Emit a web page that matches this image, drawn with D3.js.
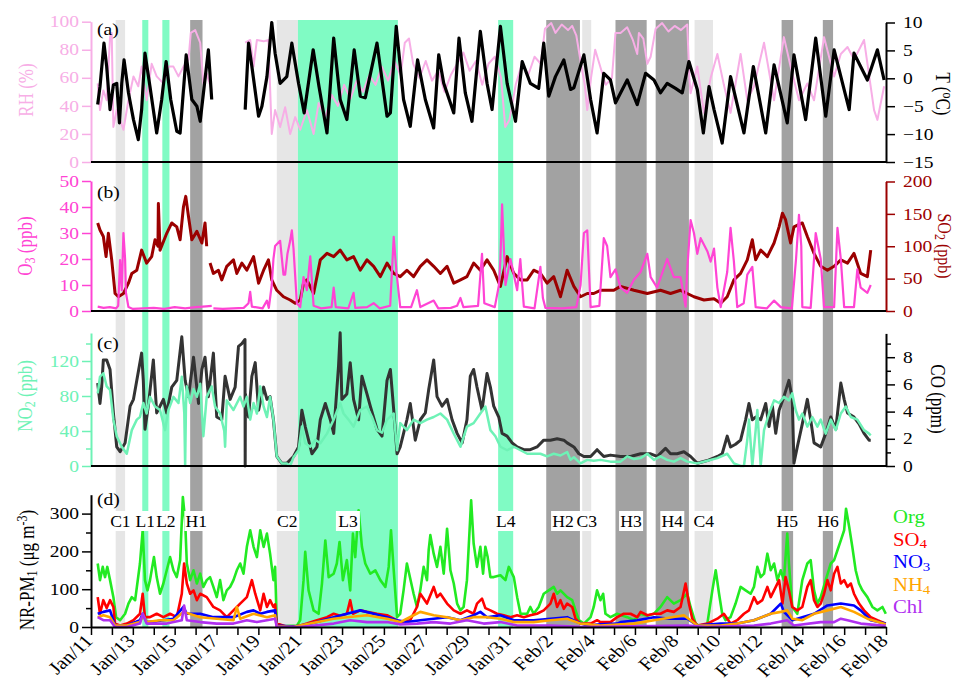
<!DOCTYPE html>
<html><head><meta charset="utf-8">
<script src="https://cdn.jsdelivr.net/npm/d3@7"></script>
<style>
body{margin:0;background:#fff}
svg{display:block}
text{font-family:"Liberation Serif","Times New Roman",serif}
</style>
</head><body>
<svg id="chart" width="955" height="688"></svg>
<script>
// ---- episode bands (days after Jan 11 00:00) ----
const bandNames = ["C1","L1","L2","H1","C2","L3","L4","H2","C3","H3","H4","C4","H5","H6"];
const bandStart = [1.18,2.45,3.41,4.74,8.88,9.89,19.46,21.76,23.48,25.07,26.99,28.85,33.01,34.98];
const bandEnd   = [1.63,2.74,3.75,5.33,9.89,14.67,20.18,23.37,23.91,26.56,28.58,29.73,33.56,35.47];

// ---- (a) temperature (°C) and RH (%) ----
const tempC = [[0.32,-4.7],[0.43,-1.5],[0.62,6.3],[0.75,2.1],[0.91,-5.6],[1.07,-1.2],[1.23,-0.9],[1.36,-8.0],[1.47,-0.9],[1.58,3.3],[1.79,-2.6],[2.03,-7.4],[2.26,-11],[2.42,-5.6],[2.58,4.5],[2.82,-1.5],[3.14,-9.8],[3.38,-3.8],[3.59,3.0],[3.81,-3.8],[4.10,-9.5],[4.26,-9.8],[4.55,4.2],[4.82,-3.8],[5.06,-5.0],[5.22,-7.7],[5.61,5.1],[5.77,-3.8],[5.8,null],
[7.37,-5.6],[7.53,6.3],[7.69,2.1],[8.01,-6.8],[8.17,-5.0],[8.41,0.3],[8.64,10.0],[8.80,4.5],[9.04,-0.9],[9.36,0.3],[9.60,6.3],[9.92,-0.9],[10.19,-6.2],[10.62,5.1],[10.9,-1.5],[11.28,-9.8],[11.6,7.2],[11.91,-3.8],[12.23,-7.4],[12.58,5.1],[12.87,-3.2],[13.11,-3.5],[13.67,6.3],[14.15,-6.8],[14.31,-6.2],[14.59,9.3],[14.94,-3.8],[15.26,-8.6],[15.61,3.3],[15.98,-3.8],[16.38,-8.9],[16.62,4.2],[16.86,-0.9],[17.34,-6.2],[17.59,7.2],[17.89,-2.6],[18.21,-7.7],[18.61,8.4],[18.93,-0.9],[19.17,-5.6],[19.57,9.3],[19.89,-0.9],[20.29,-7.7],[20.61,3.0],[21.0,-0.9],[21.4,-1.8],[21.64,6.3],[21.88,-3.2],[22.2,0.3],[22.6,3.3],[22.92,-2.0],[23.08,-1.7],[23.56,4.2],[23.88,-3.8],[24.19,-9.8],[24.51,0.9],[24.83,-0.3],[25.07,-4.4],[25.63,-0.3],[26.11,-4.7],[26.51,0.9],[26.91,-0.3],[27.22,-2.6],[27.54,-0.9],[27.94,-1.8],[28.26,-2.6],[28.58,3.0],[28.98,-2.0],[29.27,-9.8],[29.54,-1.5],[29.78,-5.6],[30.17,-11.6],[30.57,0.3],[31.21,-9.8],[31.66,2.1],[32.25,-9.8],[32.65,2.4],[33.28,-8.0],[33.60,4.2],[34.16,-7.4],[34.64,7.2],[35.12,-6.8],[35.52,5.1],[36.24,-5.6],[36.47,4.5],[37.11,-0.3],[37.59,5.1],[37.91,-0.3]];

const rh = [[0.32,56],[0.43,37],[0.59,51],[0.75,44],[0.91,89],[0.99,92],[1.07,25],[1.23,37],[1.55,23],[1.79,44],[2.03,61],[2.26,54],[2.42,68],[2.66,44],[2.90,70],[3.14,61],[3.46,56],[3.70,68],[3.94,68],[4.18,61],[4.42,68],[4.66,73],[4.77,92],[4.98,94],[5.22,85],[5.37,56],[5.53,63],[5.77,51],[5.8,null],
[7.37,85],[7.61,87],[7.77,68],[7.93,87],[8.25,86],[8.48,87],[8.64,20],[8.80,37],[9.04,25],[9.28,39],[9.52,20],[9.76,32],[10.0,23],[10.32,37],[10.64,20],[10.88,42],[11.2,32],[11.5,48],[11.8,40],[12.1,55],[12.4,45],[12.7,58],[13.0,50],[13.3,62],[13.6,55],[13.9,68],[14.2,58],[14.5,72],[14.8,62],[15.0,85],[15.2,88],[15.4,70],[15.7,60],[16.0,72],[16.3,58],[16.6,65],[16.9,50],[17.2,62],[17.5,70],[17.8,78],[18.1,65],[18.4,72],[18.7,55],[19.0,70],[19.3,75],[19.6,60],[19.8,25],[20.0,30],[20.3,55],[20.6,70],[20.9,62],[21.2,75],[21.5,70],[21.7,95],[22.0,99],[22.2,92],[22.5,98],[22.8,94],[23.0,97],[23.2,90],[23.4,72],[23.6,55],[23.72,37],[23.9,60],[24.1,80],[24.3,70],[24.6,55],[24.9,60],[25.07,92],[25.31,92],[25.63,96],[25.9,87],[26.11,77],[26.19,92],[26.4,88],[26.59,70],[26.75,75],[26.99,95],[27.3,99],[27.6,93],[27.9,97],[28.2,94],[28.5,98],[28.6,60],[28.66,49],[28.98,68],[29.3,35],[29.62,60],[29.94,77],[30.25,55],[30.57,35],[31.05,77],[31.37,44],[31.69,54],[32.17,85],[32.65,44],[33.12,89],[33.44,68],[33.84,44],[34.24,56],[34.56,44],[35.04,89],[35.52,61],[35.84,77],[36.16,82],[36.47,73],[36.95,87],[37.43,37],[37.59,30],[37.91,54]];

// ---- (b) O3 and SO2 (ppb) ----
const o3 = [[0.32,1.7],[0.6,1.2],[0.9,1.5],[1.2,1.0],[1.3,2],[1.39,19.6],[1.47,8],[1.55,30],[1.63,20],[1.67,7],[1.79,1.5],[2.0,0.8],[2.5,1.0],[3.0,1.2],[3.5,0.8],[4.0,1.5],[4.5,1.0],[5.0,1.5],[5.5,1.8],[5.77,2.0],[5.8,null],[5.85,1.0],[6.3,0.8],[6.8,1.0],[7.3,1.2],[7.53,3],[7.61,7.4],[7.69,1.7],[8.2,1.0],[8.41,4],[8.5,1.2],[8.64,10],[8.72,20],[8.80,25],[9.04,27],[9.2,14],[9.28,14],[9.39,22],[9.52,27],[9.60,31],[9.68,24],[9.84,3],[10.0,1.5],[10.16,13],[10.32,8],[10.48,21],[10.64,2],[11.0,1.0],[11.5,1.5],[11.6,9],[11.7,1.5],[12.3,1.0],[12.55,7],[12.63,1.2],[13.2,1.5],[13.51,3],[13.8,1.0],[14.3,2],[14.47,28.5],[14.6,15],[14.78,1.5],[15.3,1.5],[15.58,8],[15.74,1.5],[16.38,4],[16.6,1.0],[17.2,1.2],[17.5,2],[17.66,5],[17.8,1.5],[18.5,2],[18.69,22],[18.8,3],[19.3,1.5],[19.5,10],[19.57,20],[19.65,41],[19.73,25],[19.81,10],[20.05,20],[20.21,14],[20.37,8],[20.52,20],[20.69,1.7],[21.2,1.0],[21.48,17],[21.6,5],[21.72,1.2],[22.5,1.0],[23.2,1.5],[23.4,10],[23.56,30],[23.72,31],[23.88,1.5],[24.3,2],[24.51,28],[24.67,25],[24.83,13],[25.07,16],[25.31,9],[25.63,7],[25.95,12],[26.27,15],[26.59,22],[26.75,13],[27.06,9],[27.54,20],[27.86,13],[28.18,13],[28.42,1.7],[28.50,16],[28.66,35],[28.82,30],[28.98,22],[29.14,28],[29.46,23],[29.62,19],[29.78,24],[29.94,9],[30.10,1.5],[30.41,15],[30.57,32],[30.73,19],[30.89,1.5],[31.2,3],[31.37,14],[31.61,17],[31.77,1.5],[32.3,1.0],[32.65,4],[32.97,1.5],[33.5,1.0],[33.7,20],[33.84,37],[33.95,25],[34.0,1.5],[34.4,1.2],[34.56,20],[34.64,30],[34.88,20],[35.04,1.5],[35.52,1.5],[35.68,32],[35.84,20],[36.0,1.5],[36.47,1.5],[36.63,16],[36.79,9],[37.11,7],[37.27,10]];

const so2 = [[0.32,136],[0.43,125],[0.59,115],[0.72,84],[0.83,120],[0.99,79],[1.15,27],[1.31,22],[1.55,27],[1.79,43],[1.95,58],[2.19,63],[2.42,94],[2.66,74],[2.90,84],[3.06,110],[3.20,100],[3.22,166],[3.30,94],[3.62,120],[3.86,136],[4.10,130],[4.26,110],[4.42,161],[4.53,177],[4.66,146],[4.82,110],[5.06,123],[5.30,105],[5.45,136],[5.53,100],[5.6,null],
[5.69,74],[5.85,58],[6.09,63],[6.25,48],[6.49,69],[6.81,79],[6.97,58],[7.21,74],[7.45,63],[7.77,84],[8.01,43],[8.25,63],[8.48,79],[8.64,48],[8.88,32],[9.20,22],[9.52,17],[9.76,12],[10.0,17],[10.16,43],[10.32,48],[10.64,27],[10.96,79],[11.28,89],[11.6,84],[11.91,94],[12.23,79],[12.55,84],[12.87,63],[13.19,79],[13.51,69],[13.83,53],[14.15,74],[14.47,58],[14.78,53],[15.10,63],[15.42,53],[15.74,69],[16.06,79],[16.38,69],[16.70,58],[17.02,69],[17.34,43],[17.66,48],[17.97,53],[18.29,74],[18.61,63],[18.93,79],[19.25,63],[19.57,38],[19.89,84],[20.21,58],[20.53,48],[20.85,48],[21.16,63],[21.48,58],[21.80,43],[22.12,53],[22.44,22],[22.76,63],[23.08,38],[23.40,22],[23.72,27],[24.03,27],[24.35,32],[24.67,32],[24.99,32],[25.31,38],[25.95,32],[26.59,27],[27.22,32],[27.70,27],[28.18,32],[28.50,27],[28.82,22],[29.30,17],[29.78,19],[30.10,12],[30.41,22],[30.73,48],[31.05,58],[31.37,79],[31.61,110],[31.77,79],[32.01,94],[32.33,84],[32.65,105],[32.89,130],[33.05,151],[33.20,141],[33.44,105],[33.60,130],[34.0,136],[34.24,115],[34.56,89],[34.88,69],[35.20,63],[35.52,69],[35.84,79],[36.16,74],[36.47,89],[36.79,58],[37.11,53],[37.27,94]];

// ---- (c) NO2 (ppb) and CO (ppm) ----
const no2 = [[0.32,83],[0.43,102],[0.59,106],[0.75,91],[0.91,87],[1.07,53],[1.23,34],[1.47,22],[1.71,14],[1.95,41],[2.19,53],[2.34,56],[2.50,72],[2.66,60],[2.82,79],[3.06,68],[3.30,64],[3.54,41],[3.70,64],[3.94,79],[4.18,72],[4.34,102],[4.46,60],[4.50,0],[4.54,70],[4.58,91],[4.74,72],[4.90,88],[5.06,79],[5.22,94],[5.37,34],[5.53,79],[5.77,91],[5.93,68],[6.17,60],[6.37,40],[6.41,22],[6.49,75],[6.81,64],[7.13,79],[7.29,68],[7.45,79],[7.61,53],[7.77,72],[7.93,60],[8.09,91],[8.25,68],[8.41,56],[8.56,79],[8.72,53],[8.88,11],[9.12,3],[9.36,3],[9.52,0],[9.68,10],[9.92,18],[10.08,45],[10.24,26],[10.48,22],[10.72,30],[10.96,26],[11.28,37],[11.6,53],[11.91,72],[12.07,60],[12.31,53],[12.55,45],[12.87,64],[13.19,68],[13.43,56],[13.67,41],[13.91,38],[14.15,53],[14.47,60],[14.63,18],[14.78,49],[15.10,41],[15.42,53],[15.74,49],[16.06,53],[16.38,56],[16.70,60],[17.02,53],[17.34,37],[17.66,22],[17.97,45],[18.29,49],[18.61,60],[18.85,68],[19.09,41],[19.33,34],[19.57,22],[19.89,18],[20.21,22],[20.53,18],[20.85,14],[21.16,14],[21.48,14],[21.80,11],[22.12,14],[22.44,12],[22.76,16],[22.92,7],[23.08,10],[23.40,3],[23.72,7],[24.03,6],[24.35,7],[24.83,5],[25.31,5],[25.63,11],[25.95,8],[26.27,9],[26.59,14],[26.91,7],[27.22,11],[27.54,7],[27.86,5],[28.18,9],[28.50,5],[28.98,3],[29.46,6],[29.94,9],[30.41,14],[30.73,3],[31.05,0],[31.21,0],[31.37,30],[31.45,53],[31.61,0],[31.77,41],[31.85,64],[32.01,0],[32.17,41],[32.41,60],[32.65,75],[32.89,72],[33.12,79],[33.36,75],[33.52,83],[33.68,64],[33.84,53],[34.0,60],[34.24,45],[34.48,56],[34.72,45],[34.88,53],[35.12,37],[35.36,53],[35.60,41],[35.84,60],[36.08,68],[36.32,56],[36.63,53],[36.95,41],[37.19,37],[37.27,35]];

const co = [[0.32,6.1],[0.43,4.6],[0.51,5.8],[0.59,7.8],[0.75,7.8],[0.91,7.1],[1.07,3.9],[1.23,1.4],[1.39,1.05],[1.63,1.7],[1.87,4.4],[2.03,4.9],[2.19,6.3],[2.42,8.3],[2.50,6.3],[2.58,2.7],[2.74,4.4],[2.98,7.8],[3.14,3.9],[3.46,4.9],[3.62,3.9],[3.86,5.8],[4.10,6.3],[4.34,9.5],[4.50,6.3],[4.66,5.1],[4.90,8.0],[5.14,4.6],[5.30,7.1],[5.45,8.0],[5.61,5.1],[5.85,8.3],[6.01,3.6],[6.25,3.4],[6.41,6.6],[6.65,4.9],[6.89,5.8],[7.05,8.8],[7.21,9.0],[7.36,9.3],[7.37,0],[7.38,5.3],[7.53,3.6],[7.69,6.6],[7.85,7.6],[8.01,4.1],[8.25,5.8],[8.41,4.9],[8.56,5.1],[8.72,3.4],[8.88,0.7],[9.12,0.2],[9.36,0.2],[9.68,0.7],[9.92,1.4],[10.08,4.1],[10.16,3.5],[10.24,2.9],[10.40,1.9],[10.56,0.9],[10.80,1.4],[10.96,3.4],[11.2,4.6],[11.44,3.4],[11.6,2.4],[11.83,7.3],[11.91,9.8],[11.99,4.9],[12.23,5.3],[12.39,7.6],[12.55,4.9],[12.79,3.4],[12.95,6.6],[13.19,5.3],[13.35,4.4],[13.67,2.7],[13.91,2.2],[14.15,6.3],[14.31,7.1],[14.47,4.1],[14.63,0.9],[14.78,1.4],[14.94,2.4],[15.10,3.4],[15.26,4.6],[15.50,1.9],[15.74,3.4],[15.98,3.9],[16.14,5.6],[16.38,7.8],[16.54,5.1],[16.78,4.4],[17.02,4.9],[17.26,3.4],[17.50,2.4],[17.74,1.7],[17.97,3.4],[18.13,6.6],[18.29,7.1],[18.45,5.8],[18.69,4.1],[18.93,6.8],[19.09,5.8],[19.25,4.4],[19.49,3.6],[19.65,2.4],[19.89,2.2],[20.13,1.7],[20.37,1.4],[20.69,1.2],[21.0,1.2],[21.32,1.4],[21.64,1.9],[21.96,1.9],[22.28,2.0],[22.60,1.9],[22.76,1.7],[23.08,1.4],[23.32,0.9],[23.56,0.7],[23.88,0.7],[24.19,1.2],[24.51,0.7],[24.83,0.8],[25.31,0.7],[25.79,0.7],[26.27,0.9],[26.75,0.9],[27.06,0.7],[27.46,1.3],[27.70,0.9],[28.02,0.9],[28.34,1.05],[28.66,0.7],[28.98,0.2],[29.46,0.4],[29.94,0.7],[30.17,0.9],[30.41,2.2],[30.57,1.4],[30.81,1.6],[31.05,1.9],[31.29,3.4],[31.45,4.6],[31.61,3.4],[31.77,3.6],[32.01,3.4],[32.25,4.6],[32.41,2.9],[32.57,4.4],[32.73,2.4],[32.89,4.1],[33.12,5.1],[33.36,6.3],[33.52,4.9],[33.60,0.2],[33.76,1.4],[34.0,3.1],[34.24,4.9],[34.40,3.4],[34.56,1.7],[34.88,1.4],[35.12,2.4],[35.36,3.6],[35.60,2.7],[35.84,6.1],[36.0,4.9],[36.16,3.9],[36.47,3.6],[36.71,3.1],[36.95,2.4],[37.19,1.9],[37.27,1.9]];

// ---- (d) NR-PM1 species (µg m-3) ----
const org = [[0.32,168],[0.43,124],[0.56,159],[0.67,132],[0.78,159],[0.91,124],[1.07,79],[1.20,26],[1.39,18],[1.63,35],[1.79,62],[1.95,79],[2.11,71],[2.34,168],[2.47,256],[2.58,124],[2.70,97],[2.82,124],[3.01,185],[3.14,132],[3.30,88],[3.46,115],[3.62,150],[3.78,185],[3.94,150],[4.10,132],[4.26,177],[4.39,344],[4.50,282],[4.58,168],[4.74,124],[4.90,150],[5.06,115],[5.22,141],[5.37,106],[5.53,124],[5.69,132],[5.85,106],[6.01,79],[6.17,124],[6.33,71],[6.49,97],[6.65,106],[6.81,124],[6.97,150],[7.13,168],[7.29,141],[7.45,212],[7.61,256],[7.77,212],[7.93,185],[8.09,256],[8.25,212],[8.41,247],[8.56,194],[8.72,124],[8.80,159],[8.88,9],[9.2,2],[9.5,3],[9.84,3],[10.0,18],[10.16,124],[10.24,199],[10.40,97],[10.64,44],[10.88,35],[11.04,115],[11.2,229],[11.36,132],[11.6,141],[11.75,168],[11.88,225],[12.04,124],[12.23,177],[12.39,97],[12.52,247],[12.63,185],[12.79,309],[12.95,212],[13.11,168],[13.35,141],[13.59,150],[13.83,124],[14.07,106],[14.23,159],[14.34,256],[14.47,150],[14.63,26],[14.78,35],[14.94,97],[15.10,168],[15.42,88],[15.58,53],[15.74,97],[15.90,159],[16.06,124],[16.14,203],[16.22,243],[16.38,194],[16.54,159],[16.70,212],[16.86,141],[17.02,260],[17.18,150],[17.34,115],[17.50,62],[17.66,44],[17.81,53],[17.97,124],[18.17,335],[18.29,221],[18.45,159],[18.61,212],[18.74,141],[18.85,212],[18.96,185],[19.09,132],[19.25,132],[19.57,137],[19.81,124],[19.97,159],[20.21,132],[20.37,79],[20.53,35],[20.85,35],[21.0,53],[21.16,35],[21.40,53],[21.64,88],[21.88,97],[22.12,106],[22.28,88],[22.44,97],[22.76,79],[23.0,71],[23.16,44],[23.32,18],[23.56,9],[23.88,26],[24.03,53],[24.19,97],[24.35,71],[24.48,88],[24.59,35],[24.83,26],[25.15,35],[25.63,26],[25.95,18],[26.27,35],[26.59,30],[26.91,35],[27.22,53],[27.54,79],[27.86,62],[28.18,71],[28.50,88],[28.66,53],[28.90,9],[29.14,0],[29.46,9],[29.70,97],[29.86,150],[30.02,88],[30.17,35],[30.33,18],[30.57,26],[30.81,62],[31.05,106],[31.29,97],[31.53,88],[31.69,106],[31.85,159],[32.01,132],[32.17,141],[32.33,194],[32.49,150],[32.65,168],[32.81,124],[32.97,150],[33.12,124],[33.28,247],[33.36,168],[33.52,53],[33.76,35],[34.0,124],[34.24,168],[34.40,177],[34.56,97],[34.72,62],[34.88,79],[35.12,124],[35.36,168],[35.52,177],[35.68,203],[35.84,229],[36.0,256],[36.09,313],[36.24,265],[36.39,212],[36.55,150],[36.71,115],[36.87,97],[37.11,79],[37.35,53],[37.59,44],[37.83,53],[37.99,35]];

const so4 = [[0.32,79],[0.43,35],[0.59,71],[0.75,50],[0.91,71],[1.07,53],[1.15,9],[1.39,4],[1.71,9],[2.03,18],[2.34,35],[2.47,88],[2.58,26],[2.82,26],[3.14,35],[3.46,26],[3.78,35],[4.10,26],[4.34,88],[4.45,168],[4.58,115],[4.74,88],[4.90,97],[5.06,71],[5.22,88],[5.53,79],[5.85,53],[6.17,44],[6.49,26],[6.81,44],[7.13,62],[7.45,79],[7.69,124],[7.85,88],[8.09,44],[8.25,88],[8.41,53],[8.56,71],[8.72,53],[8.80,60],[8.88,9],[9.3,2],[9.84,2],[10.0,4],[10.32,9],[10.80,18],[11.28,26],[11.6,35],[11.91,30],[12.23,35],[12.39,71],[12.52,35],[12.87,44],[13.19,40],[13.67,35],[14.15,31],[14.47,22],[14.78,13],[15.26,18],[15.58,53],[15.74,88],[16.06,62],[16.38,106],[16.54,79],[16.70,88],[17.02,62],[17.34,44],[17.66,35],[17.97,44],[18.29,35],[18.45,62],[18.69,75],[18.85,50],[19.09,44],[19.41,35],[19.73,31],[20.05,26],[20.37,31],[20.69,26],[21.0,31],[21.32,35],[21.64,44],[21.96,62],[22.12,88],[22.28,53],[22.44,71],[22.60,48],[22.76,62],[23.0,53],[23.16,22],[23.40,9],[23.88,9],[24.19,18],[24.35,13],[24.83,13],[25.15,26],[25.47,35],[25.79,35],[26.11,26],[26.27,40],[26.59,31],[26.91,35],[27.22,35],[27.54,44],[27.86,40],[28.18,53],[28.42,115],[28.58,62],[28.74,22],[28.98,4],[29.46,9],[29.94,22],[30.25,35],[30.57,9],[30.89,18],[31.21,35],[31.45,44],[31.69,79],[31.85,62],[32.09,71],[32.33,106],[32.49,79],[32.65,97],[32.89,124],[33.05,62],[33.20,132],[33.36,97],[33.52,53],[33.76,44],[34.0,53],[34.24,106],[34.40,124],[34.56,71],[34.72,53],[34.88,62],[35.04,88],[35.20,124],[35.36,97],[35.52,141],[35.68,159],[35.84,115],[36.0,124],[36.16,106],[36.32,115],[36.47,88],[36.71,62],[36.95,44],[37.27,26],[37.59,18],[37.99,9]];

const no3 = [[0.32,35],[0.59,40],[0.91,44],[1.15,4],[1.71,4],[2.34,18],[2.47,35],[2.66,13],[3.14,15],[3.94,22],[4.42,53],[4.58,35],[5.22,35],[5.85,26],[6.81,26],[7.45,40],[7.77,44],[8.09,35],[8.41,40],[8.80,44],[8.88,4],[9.68,1],[10.0,3],[10.80,13],[11.6,26],[12.23,35],[12.87,44],[13.51,35],[14.15,26],[14.63,18],[15.10,13],[15.74,18],[16.38,22],[17.02,26],[17.66,18],[18.29,31],[18.61,40],[18.93,26],[19.57,31],[20.21,18],[21.16,18],[21.96,22],[22.76,26],[23.24,13],[23.72,4],[24.35,7],[25.15,9],[25.31,13],[26.11,18],[26.91,26],[27.70,22],[28.50,22],[28.98,4],[30.10,9],[30.89,9],[31.69,18],[32.49,35],[32.97,62],[33.12,40],[33.52,18],[34.0,26],[34.56,35],[35.20,57],[35.84,62],[36.47,57],[36.79,44],[37.27,18],[37.99,9]];

const nh4 = [[0.32,26],[0.59,31],[0.91,26],[1.15,4],[1.71,4],[2.34,13],[2.50,31],[2.66,13],[3.30,18],[3.94,18],[4.42,40],[5.22,26],[6.01,22],[6.81,18],[6.97,53],[7.13,22],[7.77,35],[8.41,26],[8.80,31],[8.88,2],[9.68,0],[10.0,4],[11.6,22],[12.23,26],[13.19,31],[14.15,22],[14.78,13],[15.42,31],[15.74,40],[16.38,31],[17.02,26],[17.66,18],[18.29,26],[18.93,26],[19.57,22],[20.21,13],[21.16,13],[21.96,18],[22.76,22],[23.40,9],[24.35,4],[25.95,9],[26.91,18],[28.34,31],[28.98,4],[30.10,4],[30.89,9],[31.69,18],[32.49,35],[32.97,40],[33.28,44],[33.52,22],[34.0,18],[34.56,35],[35.20,44],[35.84,53],[36.47,40],[37.11,22],[37.99,7]];

const chl = [[0.32,26],[0.59,18],[0.91,18],[1.15,0],[1.71,0],[2.34,9],[2.47,35],[2.66,9],[3.62,9],[4.34,18],[4.45,57],[4.58,18],[5.22,13],[6.01,9],[6.81,9],[7.45,18],[7.93,13],[8.41,18],[8.80,22],[8.88,0],[10.0,0],[11.6,9],[12.39,18],[13.19,13],[14.15,13],[14.78,7],[15.58,9],[16.38,13],[17.18,9],[17.97,18],[18.77,9],[19.57,13],[20.37,4],[21.96,4],[23.56,0],[25.95,2],[28.50,4],[29.46,0],[31.69,4],[32.49,9],[33.28,18],[33.60,4],[34.88,13],[35.52,13],[35.84,22],[36.16,18],[36.79,9],[37.99,3]];

const speciesNames = ["Org","SO4","NO3","NH4","Chl"];
const speciesData = [org, so4, no3, nh4, chl];
const speciesColors = ["#22ea22","#ff0000","#0000ff","#ffa500","#b030f0"];

// ---- layout ----
const svg = d3.select("#chart");
const SX = 1.22;                      // horizontal glyph stretch used for axis labels
const t0 = Date.UTC(2013,0,11);
const toDate = d => new Date(t0 + d*864e5);
const x = d3.scaleUtc().domain([toDate(0), toDate(38)]).range([91, 886]);

const yRH  = d3.scaleLinear([0,100],[162,21.7]);
const yT   = d3.scaleLinear([-15,10],[162,22.5]);
const yO3  = d3.scaleLinear([0,50],[311,181]);
const ySO2 = d3.scaleLinear([0,200],[311,181.5]);
const yNO2 = d3.scaleLinear([0,152],[466,333]);
const yCO  = d3.scaleLinear([0,9.75],[466,333.4]);
const yPM  = d3.scaleLinear([0,350],[627,494.7]);

const bandColor = n => n[0]==="C" ? "#e6e6e6" : n[0]==="L" ? "#80fbc4" : "#a2a2a2";

// shaded episodes across all panels
svg.append("g").selectAll("rect").data(bandNames).join("rect")
  .attr("x", (n,i) => x(toDate(bandStart[i])))
  .attr("width", (n,i) => x(toDate(bandEnd[i])) - x(toDate(bandStart[i])))
  .attr("y", 20).attr("height", 607)
  .attr("fill", bandColor);

function stretch(sel, sx){
  sel.each(function(){
    const t = d3.select(this);
    const xx = +t.attr("x") || 0, yy = +t.attr("y") || 0;
    t.attr("x", 0).attr("y", 0).attr("transform", `translate(${xx},${yy}) scale(${sx},1)`);
  });
}

function drawSeries(data, y, color, width){
  const line = d3.line().defined(p => p[1] !== null)
    .x(p => x(toDate(p[0]))).y(p => y(p[1]));
  svg.append("path").datum(data).attr("d", line)
    .attr("fill","none").attr("stroke",color).attr("stroke-width",width)
    .attr("stroke-linejoin","round");
}

function vAxis(axisFn, xpos, y, values, color, minor, pad){
  const root = svg.append("g").attr("transform",`translate(${xpos},0)`).attr("color",color);
  if (minor) {
    const m = root.append("g").call(axisFn(y).tickValues(minor).tickSize(5).tickSizeOuter(0).tickFormat(""));
    m.select(".domain").remove();
    m.selectAll("line").attr("stroke-width",1.5);
  }
  const g = root.append("g").call(axisFn(y).tickValues(values).tickSize(9).tickPadding(pad).tickSizeOuter(0));
  g.select(".domain").attr("stroke-width",2);
  g.selectAll(".tick line").attr("stroke-width",1.5);
  g.selectAll("text").attr("font-size",16).attr("font-family","Liberation Serif").call(stretch, SX);
}
const leftAxis  = (y, v, c, m) => vAxis(d3.axisLeft, 91, y, v, c, m, 3);
const rightAxis = (y, v, c, m) => vAxis(d3.axisRight, 886, y, v, c, m, 8);

// rotated axis titles with sub/superscripts: parts = [[text, "sub"|"sup"|null], ...]
function title(px, py, angle, color, parts, fs){
  const t = svg.append("text")
    .attr("transform", `translate(${px},${py}) scale(1.2,1) rotate(${angle})`)
    .attr("text-anchor","middle").attr("font-size",fs || 17).attr("fill",color);
  parts.forEach(([s, kind]) => {
    const sp = t.append("tspan").text(s);
    if (kind === "sub") sp.attr("font-size",12).attr("baseline-shift","-25%");
    if (kind === "sup") sp.attr("font-size",12).attr("baseline-shift","45%");
  });
  return t;
}

// ---- panel (a) ----
drawSeries(rh, yRH, "#f7aee6", 2);
drawSeries(tempC, yT, "#000", 3.2);
leftAxis(yRH, [0,20,40,60,80,100], "#f7aee6");
rightAxis(yT, [-15,-10,-5,0,5,10], "#000");
title(33, 90, -90, "#f7aee6", [["RH (%)",null]]);
title(936, 94, 90, "#000", [["T (",null],["o","sup"],["C)",null]]);

// ---- panel (b) ----
drawSeries(so2, ySO2, "#9b0000", 3);
drawSeries(o3, yO3, "#ff44d4", 2.2);
leftAxis(yO3, [0,10,20,30,40,50], "#ff44d4");
rightAxis(ySO2, [0,50,100,150,200], "#9b0000");
title(32, 246, -90, "#ff44d4", [["O",null],["3","sub"],[" (ppb)",null]]);
title(938, 246, 90, "#9b0000", [["SO",null],["2","sub"],[" (ppb)",null]], 16);

// ---- panel (c) ----
drawSeries(co, yCO, "#333", 3);
drawSeries(no2, yNO2, "#6ef2b6", 2.5);
leftAxis(yNO2, [0,40,80,120], "#6ef2b6", [20,60,100,140]);
rightAxis(yCO, [0,2,4,6,8], "#000", [1,3,5,7,9]);
title(32, 396, -90, "#6ef2b6", [["NO",null],["2","sub"],[" (ppb)",null]]);
title(931, 399, 90, "#000", [["CO (ppm)",null]]);

// ---- panel (d) ----
speciesData.forEach((s,i) => drawSeries(s, yPM, speciesColors[i], 2.6));
leftAxis(yPM, [0,100,200,300], "#000", [50,150,250]);
title(34, 570, -90, "#000", [["NR-PM",null],["1","sub"],[" (μg m",null],["-3","sup"],[")",null]]);

// horizontal baselines of the upper panels
[yT, yO3, yNO2].forEach(y => {
  svg.append("line").attr("x1",91).attr("x2",886).attr("y1",y.range()[0]).attr("y2",y.range()[0])
    .attr("stroke","#000").attr("stroke-width",2);
});

// date axis under panel (d)
const dayTicks = d3.range(0,39).map(toDate);
const xg = svg.append("g").attr("transform","translate(0,627)");
xg.call(d3.axisBottom(x).tickValues(dayTicks).tickSize(8).tickSizeOuter(0).tickFormat(""));
xg.select(".domain").attr("stroke-width",2);
xg.selectAll(".tick line").attr("stroke-width",1.5);
const fmt = d3.utcFormat("%b/%-d");
svg.append("g").selectAll("text").data(dayTicks.filter((d,i) => i%2===0)).join("text")
  .attr("transform", d => `translate(${x(d)+3},642) scale(1.15,1) rotate(-46)`)
  .attr("text-anchor","end").attr("font-size",18).text(fmt);

// panel letters
[["(a)",35],["(b)",198],["(c)",349],["(d)",505]].forEach(([s,yy]) => {
  svg.append("text").attr("transform",`translate(97,${yy}) scale(1.15,1)`)
    .attr("font-size",17).text(s);
});

// episode labels in panel (d)
const lab = svg.append("g").selectAll("g").data(bandNames).join("g")
  .attr("transform",(n,i) => `translate(${x(toDate((bandStart[i]+bandEnd[i])/2))},521)`);
lab.append("rect").attr("x",-12).attr("y",-10).attr("width",24).attr("height",20).attr("fill","#fff");
lab.append("text").attr("text-anchor","middle").attr("dy","0.35em").attr("font-size",16)
  .attr("transform","scale(1.1,1)").text(n => n);

// legend
const leg = svg.append("g").selectAll("text").data(speciesNames).join("text")
  .attr("transform",(n,i) => `translate(893,${523 + i*22.6}) scale(1.15,1)`)
  .attr("font-size",18).attr("fill",(n,i) => speciesColors[i]);
leg.each(function(n){
  const t = d3.select(this);
  const m = n.match(/^([A-Za-z]+?)(\d)?$/);
  t.append("tspan").text(m[1]);
  if (m[2]) t.append("tspan").attr("font-size",13).attr("baseline-shift","-25%").text(m[2]);
});
</script>
</body></html>
